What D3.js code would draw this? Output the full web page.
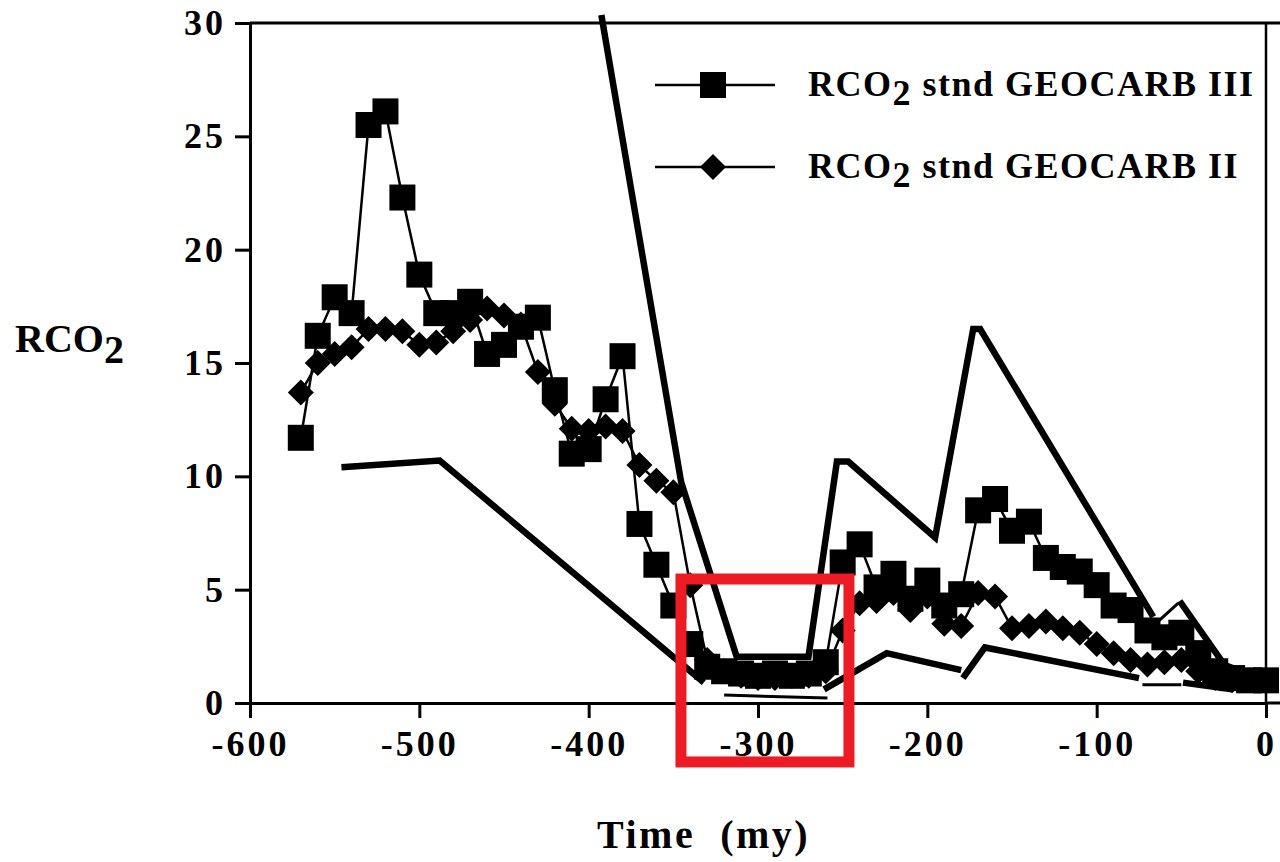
<!DOCTYPE html>
<html>
<head>
<meta charset="utf-8">
<script src="https://cdn.jsdelivr.net/npm/d3@7"></script>
<style>
  html, body { margin: 0; padding: 0; background: #fff; }
  svg { display: block; }
  text { font-family: "Liberation Serif", "Times New Roman", serif; font-weight: bold; fill: #000; }
</style>
</head>
<body>
<svg id="chart" width="1280" height="862"></svg>
<script>
// ---- data ----
const timeTicks = [-600, -500, -400, -300, -200, -100, 0];
const rco2Ticks = [0, 5, 10, 15, 20, 25, 30];

const times = [-570,-560,-550,-540,-530,-520,-510,-500,-490,-480,-470,-460,-450,-440,-430,-420,-410,-400,-390,-380,
  -370,-360,-350,-340,-330,-320,-310,-300,-290,-280,-270,-260,-250,-240,-230,-220,-210,-200,-190,-180,
  -170,-160,-150,-140,-130,-120,-110,-100,-90,-80,-70,-60,-50,-40,-30,-20,-10,0];

const geocarbIII = [11.7,16.2,17.9,17.2,25.5,26.1,22.3,18.9,17.2,17.2,17.7,15.4,15.8,16.6,17.0,13.8,11.0,11.2,13.4,15.3,
  7.9,6.1,4.3,2.6,1.6,1.4,1.3,1.2,1.3,1.2,1.3,1.8,6.2,7.0,5.1,5.7,4.6,5.4,4.3,4.8,
  8.5,9.0,7.6,8.0,6.4,6.0,5.8,5.2,4.3,4.1,3.2,2.9,3.1,2.2,1.4,1.1,1.0,1.0];

const geocarbII = [13.7,15.0,15.4,15.7,16.5,16.5,16.4,15.8,15.9,16.4,16.9,17.4,17.1,16.7,14.6,13.2,12.1,12.0,12.2,12.0,
  10.5,9.8,9.3,5.2,1.9,1.4,1.2,1.1,1.1,1.2,1.2,1.4,3.2,4.4,4.5,4.85,4.1,4.7,3.5,3.4,
  4.85,4.7,3.3,3.4,3.6,3.3,3.1,2.6,2.2,1.9,1.7,1.8,1.9,1.4,1.1,1.0,1.0,1.0];

// error bounds (thick lines); null = gap
const upperBound = [[-392.5,30.35],[-345.4,9.75],[-312.6,2.04],[-270.2,2.04],[-253.4,10.65],[-246.7,10.65],
  [-195.4,7.3],[-172.9,16.5],[-168.8,16.5],[-66.6,3.8], null,
  [-51,4.5],[-24.5,1.67],[0,1.0]];
const lowerBound = [[-546,10.4],[-488,10.7],[-332,0.9], null,
  [-261,0.6],[-224,2.2],[-180,1.45], null,
  [-179,1.1],[-166,2.45],[-75,1.1], null,
  [-49,0.9],[-20,0.6]];
// thin bound pieces
const thinBound = [[-320,0.35],[-259,0.22], null, [-73,0.8],[-50,0.8], null, [-63,3.65],[-52,4.4]];

const legendLabels = [" stnd GEOCARB III", " stnd GEOCARB II"];
const highlight = {t0: -345.5, t1: -246.3, v0: 5.47, v1: -2.6};

// ---- scales ----
const svg = d3.select("#chart");
const x = d3.scaleLinear().domain([-600, 0]).range([250, 1266]);
const y = d3.scaleLinear().domain([0, 30]).range([703, 23]);

// frame (top and right)
svg.append("line").attr("x1", x(-600)).attr("x2", 1280).attr("y1", y(30)).attr("y2", y(30))
  .attr("stroke", "#000").attr("stroke-width", 3);
svg.append("line").attr("x1", x(0)).attr("x2", x(0)).attr("y1", y(30)).attr("y2", y(0))
  .attr("stroke", "#000").attr("stroke-width", 2.5);

// axes
const xAxis = svg.append("g").attr("transform", `translate(0,${y(0)})`)
  .call(d3.axisBottom(x).tickValues(timeTicks).tickFormat(d => String(d)).tickSize(15).tickSizeOuter(0).tickPadding(12));
const yAxis = svg.append("g").attr("transform", `translate(${x(-600)},0)`)
  .call(d3.axisLeft(y).tickValues(rco2Ticks).tickFormat(d => String(d)).tickSize(15).tickSizeOuter(0).tickPadding(9));
[xAxis, yAxis].forEach(g => {
  g.select(".domain").attr("stroke", "#000").attr("stroke-width", 3);
  g.selectAll(".tick line").attr("stroke", "#000").attr("stroke-width", 3);
  g.selectAll(".tick text").style("font-family", '"Liberation Serif", "Times New Roman", serif')
    .style("font-weight", "bold").style("font-size", "36px").style("letter-spacing", "3px").attr("fill", "#000");
});
xAxis.append("line").attr("x1", x(0)).attr("x2", 1280).attr("y1", 0).attr("y2", 0)
  .attr("stroke", "#000").attr("stroke-width", 3);

// bound lines
const boundLine = d3.line().defined(d => d !== null).x(d => x(d[0])).y(d => y(d[1]));
svg.append("path").attr("d", boundLine(upperBound)).attr("fill", "none").attr("stroke", "#000")
  .attr("stroke-width", 6.5).attr("stroke-linejoin", "miter");
svg.append("path").attr("d", boundLine(lowerBound)).attr("fill", "none").attr("stroke", "#000")
  .attr("stroke-width", 6.5).attr("stroke-linejoin", "miter");
svg.append("path").attr("d", boundLine(thinBound)).attr("fill", "none").attr("stroke", "#000")
  .attr("stroke-width", 3);

// series lines
const seriesLine = d3.line().x((d, i) => x(times[i])).y(d => y(d));
svg.append("path").attr("d", seriesLine(geocarbIII)).attr("fill", "none").attr("stroke", "#000").attr("stroke-width", 2.5);
svg.append("path").attr("d", seriesLine(geocarbII)).attr("fill", "none").attr("stroke", "#000").attr("stroke-width", 2.5);

// markers
const sq = 26, dm = 13;
const diamondPath = `M0,${-dm}L${dm},0L0,${dm}L${-dm},0Z`;
svg.append("g").selectAll("rect").data(geocarbIII).join("rect")
  .attr("x", (d, i) => x(times[i]) - sq / 2).attr("y", d => y(d) - sq / 2)
  .attr("width", sq).attr("height", sq).attr("fill", "#000");
svg.append("g").selectAll("path").data(geocarbII).join("path")
  .attr("transform", (d, i) => `translate(${x(times[i])},${y(d)})`)
  .attr("d", diamondPath).attr("fill", "#000");

// legend
const legendRows = [85, 167];
legendRows.forEach((ly, k) => {
  svg.append("line").attr("x1", 655).attr("x2", 775).attr("y1", ly).attr("y2", ly)
    .attr("stroke", "#000").attr("stroke-width", 2.5);
  if (k === 0) {
    svg.append("rect").attr("x", 713 - sq / 2).attr("y", ly - sq / 2).attr("width", sq).attr("height", sq).attr("fill", "#000");
  } else {
    svg.append("path").attr("transform", `translate(713,${ly})`).attr("d", diamondPath).attr("fill", "#000");
  }
  const t = svg.append("text").attr("x", 808).attr("y", ly + 11)
    .style("font-size", "36px").style("letter-spacing", "1.5px").style("white-space", "pre");
  t.append("tspan").text("RCO");
  t.append("tspan").attr("dy", 9).text("2");
  t.append("tspan").attr("dy", -9).text(legendLabels[k]);
});

// axis titles
const yt = svg.append("text").attr("x", 15).attr("y", 352).style("font-size", "40px");
yt.append("tspan").text("RCO");
yt.append("tspan").attr("dy", 11).text("2");

svg.append("text").attr("x", 597).attr("y", 848).style("font-size", "40px")
  .style("letter-spacing", "2.5px").style("white-space", "pre").text("Time  (my)");

// red highlight box
svg.append("rect")
  .attr("x", x(highlight.t0)).attr("y", y(highlight.v0))
  .attr("width", x(highlight.t1) - x(highlight.t0)).attr("height", y(highlight.v1) - y(highlight.v0))
  .attr("fill", "none").attr("stroke", "#ed1c24").attr("stroke-width", 11);
</script>
</body>
</html>
